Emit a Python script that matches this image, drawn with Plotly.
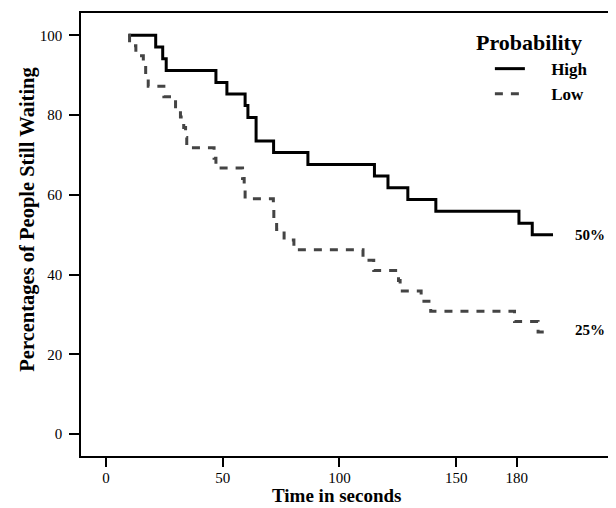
import plotly.graph_objects as go

# Kaplan-Meier style step data (time in seconds, % still waiting)
high_t = [9.6, 21.3, 24.3, 25.8, 47.1, 51.8, 59.6, 60.8, 64.3, 71.8, 86.5, 115.0, 120.8, 129.3, 141.3, 176.9, 182.6, 191.5]
high_p = [100, 97.1, 94.1, 91.2, 88.2, 85.3, 82.4, 79.4, 73.5, 70.6, 67.6, 64.7, 61.8, 58.8, 55.9, 52.9, 50.0, 50.0]

low_t = [9.6, 10.1, 12.8, 16.0, 17.0, 18.1, 24.8, 29.8, 31.9, 33.3, 34.1, 34.6, 46.3, 47.1, 58.5, 59.2, 59.6,
         71.7, 71.9, 73.1, 76.3, 80.5, 110.1, 114.7, 125.3, 126.0, 135.0, 139.1, 175.0, 185.1, 189.4]
low_p = [100, 97.4, 94.9, 92.3, 89.7, 87.2, 84.6, 82.1, 79.5, 76.9, 74.4, 71.8, 69.2, 66.7, 64.1, 61.5, 59.0, 56.4,
         53.8, 51.3, 48.7, 46.2, 43.6, 41.0, 38.5, 35.9, 33.3, 30.8, 28.2, 25.6, 25.6]

x_tickvals = [0, 50, 100, 150, 176]
x_ticktext = ["0", "50", "100", "150", "180"]
y_tickvals = [0, 20, 40, 60, 80, 100]

end_labels = ["50%", "25%"]
end_label_x = [207.2, 207.2]
end_label_y = [50.0, 26.1]

FONT = "Liberation Serif"
PAD = "\u00a0" * 5

fig = go.Figure()
fig.add_trace(go.Scatter(x=high_t, y=high_p, mode="lines", name=f"{PAD}<b>High</b>",
                         line=dict(shape="hv", color="black", width=3)))
fig.add_trace(go.Scatter(x=low_t, y=low_p, mode="lines", name=f"{PAD}<b>Low</b>",
                         line=dict(shape="hv", color="#444444", width=3, dash="8px,8px")))

for t, xx, yy in zip(end_labels, end_label_x, end_label_y):
    fig.add_annotation(x=xx, y=yy, text=f"<b>{t}</b>", showarrow=False,
                       font=dict(family=FONT, size=15, color="black"))

# legend heading and axis titles
fig.add_annotation(x=0.825, y=0.9345, xref="paper", yref="paper", text="<b>Probability</b>",
                   showarrow=False, font=dict(family=FONT, size=22, color="black"),
                   xanchor="center", yanchor="middle")
fig.add_annotation(x=0.471, y=-0.09, xref="paper", yref="paper", text="<b>Time in seconds</b>",
                   showarrow=False, font=dict(family=FONT, size=19, color="black"),
                   xanchor="center", yanchor="middle")
fig.add_annotation(x=-0.0982, y=0.535, xref="paper", yref="paper",
                   text="<b>Percentages of People Still Waiting</b>", textangle=-90,
                   showarrow=False, font=dict(family=FONT, size=20.5, color="black"),
                   xanchor="center", yanchor="middle")

fig.update_layout(
    width=616, height=508,
    margin=dict(l=73, r=0, t=5, b=60),
    paper_bgcolor="white", plot_bgcolor="white",
    font=dict(family=FONT, color="black"),
    showlegend=True,
    legend=dict(
        font=dict(family=FONT, size=17),
        x=0.753, y=0.914, xanchor="left", yanchor="top",
        bgcolor="rgba(0,0,0,0)", tracegroupgap=0,
    ),
    xaxis=dict(
        range=[-10.7, 221.9], tickvals=x_tickvals, ticktext=x_ticktext,
        showgrid=False, zeroline=False, showline=True, linecolor="black", linewidth=1.5,
        mirror=True, ticks="outside", ticklen=9, tickwidth=1.5, tickcolor="black",
        tickfont=dict(family=FONT, size=15), ticklabelstandoff=-2,
    ),
    yaxis=dict(
        range=[-5.5, 105.6], tickvals=y_tickvals,
        showgrid=False, zeroline=False, showline=True, linecolor="black", linewidth=1.5,
        ticks="outside", ticklen=10, tickwidth=1.5, tickcolor="black",
        tickfont=dict(family=FONT, size=15), ticklabelstandoff=4,
    ),
)

fig.write_html("out.html")
